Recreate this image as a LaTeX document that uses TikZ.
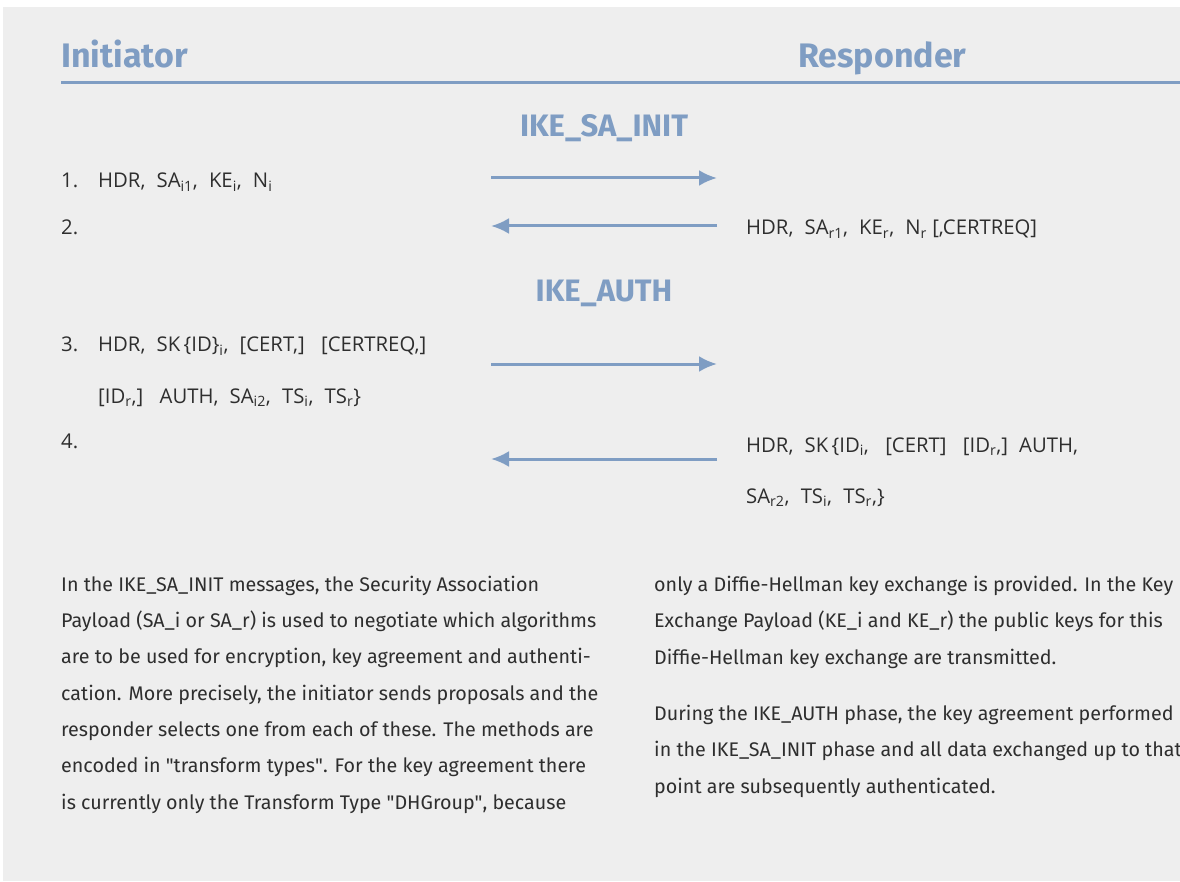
\documentclass[tikz,border=0pt]{standalone}
\usepackage{fontspec}
\setmainfont{Fira Sans}
\newfontfamily\msgfont{Open Sans}
\usetikzlibrary{arrows.meta,positioning}
\definecolor{ikeblue}{HTML}{7F9DC3}
\definecolor{panelgray}{HTML}{EEEEEE}
\definecolor{inktext}{HTML}{2E2E2E}
\newcommand{\sbs}[1]{\textsubscript{#1}}
\newcommand{\gp}{\hspace{0.55em}}

\begin{document}
\begin{tikzpicture}[x=1pt,y=-1pt,
    head/.style={anchor=base west, inner sep=0pt, text=ikeblue, font=\fontsize{34}{34}\selectfont\bfseries},
    phase/.style={anchor=base, inner sep=0pt, text=ikeblue, font=\fontsize{31}{31}\selectfont\bfseries},
    msgtext/.style={anchor=base west, inner sep=0pt, text=inktext, font=\msgfont\fontsize{20.3}{20.3}\selectfont},
    bodytext/.style={anchor=base west, inner sep=0pt, text=inktext, align=left, font=\fontsize{19.7}{36.3}\selectfont},
    msg/.style={draw=ikeblue, line width=3pt, -{Latex[length=18pt,width=16pt]}}]

    % Canvas
    \clip (0,0) rectangle (1180,882);
    \fill[white] (0,0) rectangle (1180,882);
    \fill[panelgray] (3,7) rectangle (1180,881);

    % Headers
    \node[head] (init) at (61,68) {Initiator};
    \node[head] (resp) at (798,68) {Responder};
    \coordinate (rulel) at (61,83);
    \coordinate (ruler) at (1180,83);
    \draw[ikeblue, line width=3pt] (rulel) -- (ruler);

    % Phases
    \node[phase] (sainit) at (604,137) {IKE\_SA\_INIT};
    \node[phase] (auth) at (604,302) {IKE\_AUTH};

    % Messages
    \node[msgtext] (n1) at (61,188) {1.};
    \node[msgtext] (m1) at (98,188) {HDR,\gp SA\sbs{i1},\gp KE\sbs{i},\gp N\sbs{i}};
    \node[msgtext] (n2) at (61,235) {2.};
    \node[msgtext] (m2) at (746,235) {HDR,\gp SA\sbs{r1},\gp KE\sbs{r},\gp N\sbs{r} [,CERTREQ]};
    \node[msgtext] (n3) at (61,352) {3.};
    \node[msgtext] (m3a) at (98,352) {HDR,\gp SK\,\{ID\}\sbs{i},\gp [CERT,]\gp\ [CERTREQ,]};
    \node[msgtext] (m3b) at (98,403) {[ID\sbs{r},]\gp\ AUTH,\gp SA\sbs{i2},\gp TS\sbs{i},\gp TS\sbs{r}\}};
    \node[msgtext] (n4) at (61,448) {4.};
    \node[msgtext] (m4a) at (746,452) {HDR,\gp SK\,\{ID\sbs{i},\gp\ [CERT]\gp\ [ID\sbs{r},]\gp AUTH,};
    \node[msgtext] (m4b) at (746,503) {SA\sbs{r2},\gp TS\sbs{i},\gp TS\sbs{r},\}};

    % Arrows
    \coordinate (l1) at (491,178);  \coordinate (r1) at (717,178);
    \coordinate (l2) at (491,226);  \coordinate (r2) at (717,226);
    \coordinate (l3) at (491,364);  \coordinate (r3) at (717,364);
    \coordinate (l4) at (491,459);  \coordinate (r4) at (717,459);
    \draw[msg] (l1) -- (r1);
    \draw[msg] (r2) -- (l2);
    \draw[msg] (l3) -- (r3);
    \draw[msg] (r4) -- (l4);

    % Explanation (anchored at the last line)
    \node[bodytext] (txtl) at (61,809) {In the IKE\_SA\_INIT messages, the Security Association\\
        Payload (SA\_i or SA\_r) is used to negotiate which algorithms\\
        are to be used for encryption, key agreement and authenti-\\
        cation. More precisely, the initiator sends proposals and the\\
        responder selects one from each of these. The methods are\\
        encoded in \textquotedbl transform types\textquotedbl. For the key agreement there\\
        is currently only the Transform Type \textquotedbl DHGroup\textquotedbl, because};
    \node[bodytext] (txtr) at (654,664) {only a Diffie-Hellman key exchange is provided. In the Key\\
        Exchange Payload (KE\_i and KE\_r) the public keys for this\\
        Diffie-Hellman key exchange are transmitted.};
    \node[bodytext] (txtr2) at (654,793) {During the IKE\_AUTH phase, the key agreement performed\\
        in the IKE\_SA\_INIT phase and all data exchanged up to that\\
        point are subsequently authenticated.};
\end{tikzpicture}
\end{document}
